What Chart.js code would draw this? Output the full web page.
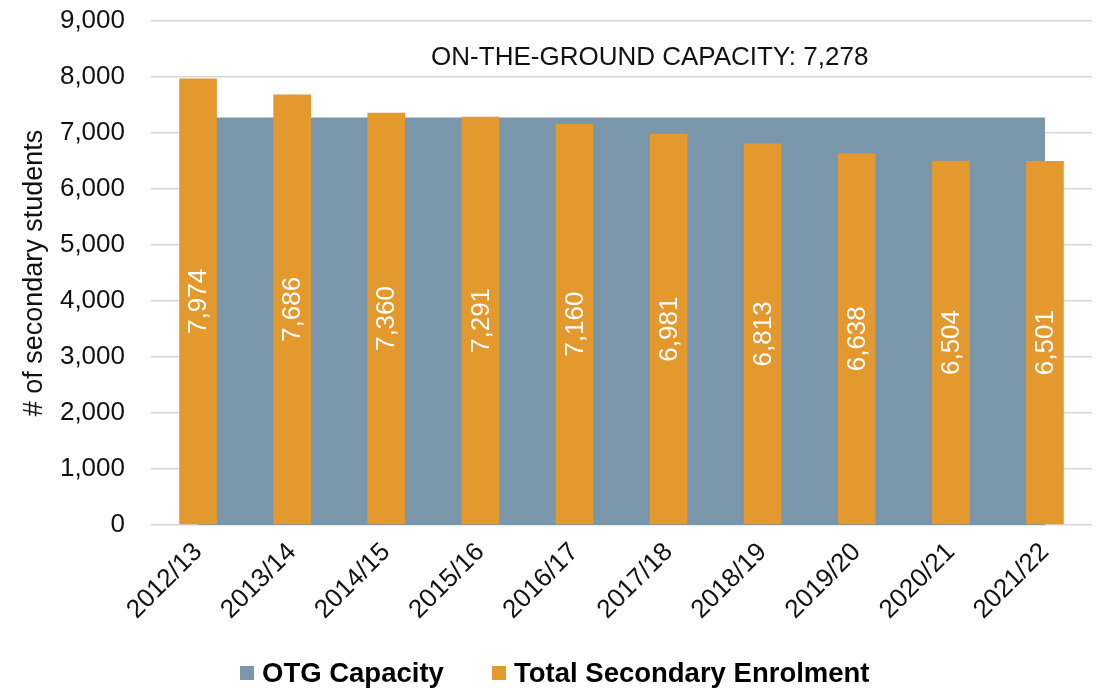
<!DOCTYPE html>
<html>
<head>
<meta charset="utf-8">
<script src="https://cdn.jsdelivr.net/npm/chart.js@4.4.1/dist/chart.umd.min.js"></script>
<style>
  html, body { margin: 0; padding: 0; background: #ffffff; }
  #wrap { position: relative; width: 1107px; height: 688px; overflow: hidden; }
  #c { position: absolute; left: 0; top: 0; }
  .leg { position: absolute; top: 659px; height: 28px; display: flex; align-items: center;
         font-family: "Liberation Sans", Arial, sans-serif; font-weight: bold; font-size: 27.5px; color: #000; white-space: nowrap; }
  .leg .sw { width: 14px; height: 14px; margin-right: 8px; }
</style>
</head>
<body>
<div id="wrap">
  <canvas id="c" width="1107" height="688"></canvas>
  <div class="leg" style="left:240px"><span class="sw" style="background:#7a96ab"></span><span>OTG Capacity</span></div>
  <div class="leg" style="left:492px"><span class="sw" style="background:#e3992e"></span><span>Total Secondary Enrolment</span></div>
</div>
<script>
// ---- data ----
const years = ["2012/13","2013/14","2014/15","2015/16","2016/17","2017/18","2018/19","2019/20","2020/21","2021/22"];
const otgCapacity = [7278,7278,7278,7278,7278,7278,7278,7278,7278,7278];
const enrolment = [7974,7686,7360,7291,7160,6981,6813,6638,6504,6501];
const yTicks = [0,1000,2000,3000,4000,5000,6000,7000,8000,9000];
const capacityNote = "ON-THE-GROUND CAPACITY: 7,278";
const seriesNames = ["OTG Capacity", "Total Secondary Enrolment"];

const BLUE = '#7a96ab';
const ORANGE = '#e3992e';
const FONT = '"Liberation Sans", Arial, sans-serif';

const barLabels = {
  id: 'barLabels',
  afterDatasetsDraw(chart) {
    const ctx = chart.ctx;
    const meta = chart.getDatasetMeta(1);
    ctx.save();
    ctx.fillStyle = '#ffffff';
    ctx.font = '26px ' + FONT;
    ctx.textAlign = 'center';
    ctx.textBaseline = 'middle';
    meta.data.forEach((bar, i) => {
      const cy = (bar.y + bar.base) / 2;
      ctx.save();
      ctx.translate(bar.x, cy);
      ctx.rotate(-Math.PI / 2);
      ctx.fillText(enrolment[i].toLocaleString('en-US'), 0, 1);
      ctx.restore();
    });
    // annotation
    const xs = chart.scales.x, ys = chart.scales.y;
    ctx.fillStyle = '#111111';
    ctx.font = '26px ' + FONT;
    ctx.fillText(capacityNote, xs.getPixelForValue(4.8), ys.getPixelForValue(8350));
    ctx.restore();
  }
};

new Chart(document.getElementById('c'), {
  type: 'bar',
  data: {
    labels: years,
    datasets: [
      {
        type: 'line',
        label: seriesNames[0],
        data: otgCapacity,
        backgroundColor: BLUE,
        borderColor: BLUE,
        borderWidth: 0,
        pointRadius: 0,
        pointHoverRadius: 0,
        fill: 'origin',
        tension: 0,
        order: 2
      },
      {
        type: 'bar',
        label: seriesNames[1],
        data: enrolment,
        backgroundColor: ORANGE,
        borderWidth: 0,
        barPercentage: 0.4,
        categoryPercentage: 1,
        order: 1
      }
    ]
  },
  options: {
    responsive: false,
    animation: false,
    locale: 'en-US',
    layout: { padding: { left: 0, right: 15, top: 21, bottom: 0 } },
    plugins: {
      legend: { display: false },
      tooltip: { enabled: false }
    },
    scales: {
      x: {
        offset: true,
        grid: { display: false, drawTicks: false },
        border: { display: false },
        ticks: {
          color: '#111111',
          font: { family: FONT, size: 26 },
          minRotation: 45,
          maxRotation: 45,
          padding: 12,
          autoSkip: false
        },
        afterFit(scale) { scale.height = 163; }
      },
      y: {
        min: 0,
        max: 9000,
        afterBuildTicks(scale) { scale.ticks = yTicks.map(v => ({ value: v })); },
        grid: { color: '#d6d6d6', lineWidth: 1.5, drawTicks: false },
        border: { display: false },
        ticks: {
          color: '#111111',
          font: { family: FONT, size: 26 },
          padding: 26,
          callback: (v) => Number(v).toLocaleString('en-US')
        },
        title: {
          display: true,
          text: '# of secondary students',
          color: '#111111',
          font: { family: FONT, size: 27 },
          padding: { top: 18, bottom: 0 }
        },
        afterFit(scale) { scale.width = 151; scale.paddingTop = 0; scale.paddingBottom = 0; }
      }
    }
  },
  plugins: [barLabels]
});
</script>
</body>
</html>
